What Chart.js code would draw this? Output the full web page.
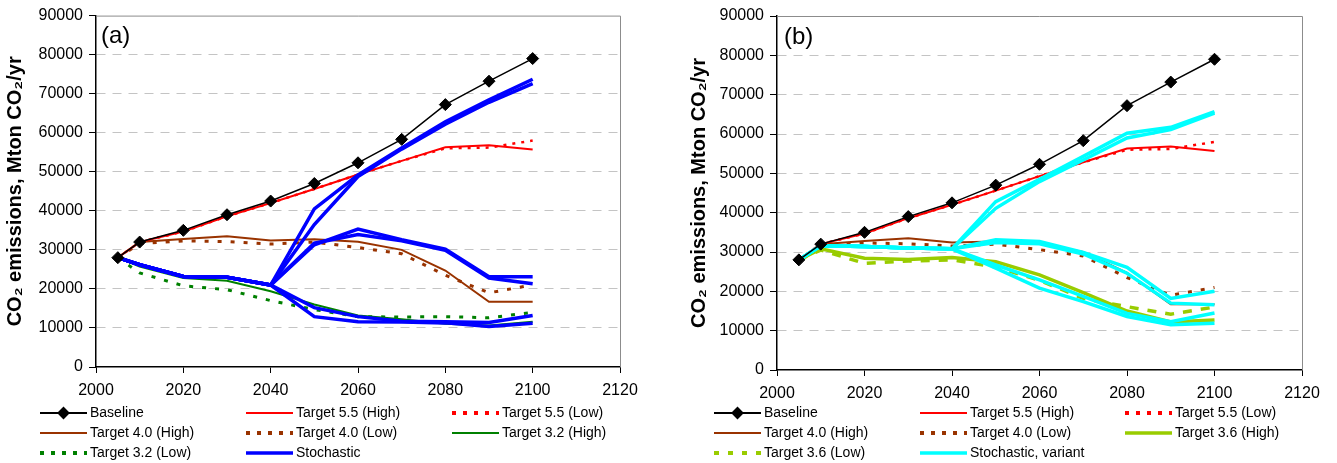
<!DOCTYPE html>
<html>
<head>
<meta charset="utf-8">
<script src="https://cdn.jsdelivr.net/npm/chart.js@4.4.1/dist/chart.umd.min.js"></script>
<style>
  body { margin: 0; background: #fff; width: 1337px; height: 463px; overflow: hidden; position: relative; }
  .box { position: absolute; top: 0; height: 463px; }
  #boxA { left: 0; width: 668px; }
  #boxB { left: 668px; width: 669px; }
</style>
</head>
<body>
<div class="box" id="boxA"><canvas id="chartA"></canvas></div>
<div class="box" id="boxB"><canvas id="chartB"></canvas></div>
<script>
// years on the x axis
const years = [2005, 2010, 2020, 2030, 2040, 2050, 2060, 2070, 2080, 2090, 2100];
const xTicks = [2000, 2020, 2040, 2060, 2080, 2100, 2120];
const yTicks = [0, 10000, 20000, 30000, 40000, 50000, 60000, 70000, 80000, 90000];

// series common to both panels
const baseline = [28000, 32000, 35000, 39000, 42500, 47000, 52300, 58300, 67200, 73200, 79000];
const t55High = [28000, 32000, 34700, 38600, 42000, 45600, 49300, 52800, 56300, 56800, 55700];
const t55Low = [28000, 32000, 34700, 38600, 42000, 45600, 49300, 52800, 56000, 56200, 58000];
const t40High = [28000, 32000, 32800, 33500, 32400, 32700, 32100, 30000, 24700, 16700, 16700];
const t40Low = [28000, 31600, 32300, 32100, 31500, 32000, 30600, 29000, 23500, 19000, 21000];

// panel (a)
const t32High = [28000, 25700, 22800, 22100, 19400, 16000, 13200, 12200, 11100, 10600, 11600];
const t32Low = [28000, 24100, 20800, 19800, 17000, 14700, 12900, 12800, 12900, 12600, 14000];
const stochastic = [
  [28000, 26200, 23200, 23000, 21000, 40500, 49200, 56100, 62800, 68400, 73700],
  [28000, 26200, 23200, 23000, 21000, 36500, 48800, 55800, 62200, 67800, 72600],
  [28000, 26200, 23200, 23000, 21000, 31300, 35300, 32600, 30200, 23100, 23100],
  [28000, 26200, 23200, 23000, 21000, 31700, 33900, 32300, 29900, 22800, 21300],
  [28000, 26200, 23200, 23000, 21000, 15200, 12900, 11700, 11600, 11400, 13200],
  [28000, 26200, 23200, 23000, 21000, 12900, 11600, 11500, 11300, 10400, 11200]
];

// panel (b)
const t36High = [28000, 30800, 28400, 28100, 28600, 27500, 24200, 19700, 15000, 12200, 12700];
const t36Low = [28000, 30500, 27100, 27700, 28000, 26200, 22800, 18200, 16100, 14200, 16000];
const stochVariant = [
  [28000, 31600, 31400, 31000, 30800, 42800, 48500, 54300, 60200, 61700, 65700],
  [28000, 31600, 31400, 31000, 30800, 41100, 47900, 53400, 59000, 61100, 65300],
  [28000, 31600, 31400, 31000, 30800, 33100, 32700, 29900, 26100, 18200, 20000],
  [28000, 31600, 31400, 31000, 30800, 32400, 32100, 29500, 24600, 17000, 16600],
  [28000, 31600, 31400, 31000, 30800, 26700, 22900, 18700, 14400, 12300, 14500],
  [28000, 31600, 31400, 31000, 30800, 25900, 20800, 17400, 13600, 11500, 11900]
];

Chart.defaults.font.family = "'Liberation Sans', Arial, sans-serif";
Chart.defaults.color = '#000';

function serie(label, values, color, width, dash, order) {
  return {
    label: label,
    data: values.map((v, i) => ({ x: years[i], y: v })),
    borderColor: color,
    backgroundColor: color,
    borderWidth: width,
    borderDash: dash || [],
    borderCapStyle: 'butt',
    pointRadius: 0,
    tension: 0,
    order: order
  };
}

// gray frame on top / right and the panel letter
const framePlugin = {
  id: 'frame',
  beforeDatasetsDraw(chart, args, opts) {
    const { ctx, chartArea: a } = chart;
    ctx.save();
    ctx.strokeStyle = '#8c8c8c';
    ctx.lineWidth = 1;
    ctx.beginPath();
    ctx.moveTo(a.left, a.top + 0.5);
    ctx.lineTo(a.right + 0.5, a.top + 0.5);
    ctx.lineTo(a.right + 0.5, a.bottom);
    ctx.stroke();
    ctx.fillStyle = '#000';
    ctx.font = "24px 'Liberation Sans', Arial, sans-serif";
    ctx.textBaseline = 'middle';
    ctx.fillText(opts.panel, a.left + opts.panelDx, a.top + 21);
    ctx.restore();
  }
};

// legend in 3 columns under the plot
const legendPlugin = {
  id: 'gridLegend',
  afterDraw(chart, args, opts) {
    const ctx = chart.ctx;
    const seen = [];
    chart.data.datasets.forEach(ds => {
      if (!seen.find(s => s.label === ds.label)) seen.push(ds);
    });
    ctx.save();
    ctx.font = "14px 'Liberation Sans', Arial, sans-serif";
    ctx.textBaseline = 'middle';
    seen.forEach((ds, i) => {
      const x0 = opts.cols[i % 3];
      const y = opts.rows[Math.floor(i / 3)];
      const w = opts.sample;
      ctx.strokeStyle = ds.borderColor;
      ctx.lineWidth = ds.legendWidth || ds.borderWidth;
      ctx.setLineDash(ds.legendDash || ds.borderDash || []);
      ctx.lineCap = 'butt';
      ctx.beginPath();
      ctx.moveTo(x0, y);
      ctx.lineTo(x0 + w, y);
      ctx.stroke();
      ctx.setLineDash([]);
      if (ds.pointStyle) {
        Chart.helpers.drawPoint(ctx, { pointStyle: ds.pointStyle, radius: 5, rotation: 0, borderWidth: 1 }, x0 + w / 2, y);
        ctx.fillStyle = ds.borderColor;
        ctx.fill();
      }
      ctx.fillStyle = '#000';
      ctx.fillText(ds.label, x0 + w + 3, y);
    });
    ctx.restore();
  }
};

function makeChart(id, datasets, p) {
  return new Chart(document.getElementById(id), {
    type: 'line',
    data: { datasets: datasets },
    options: {
      responsive: true,
      maintainAspectRatio: false,
      animation: false,
      events: [],
      layout: { padding: { left: 0, right: p.padRight, top: p.padTop, bottom: p.padBottom } },
      scales: {
        x: {
          type: 'linear',
          min: 2000,
          max: 2120,
          afterBuildTicks: s => { s.ticks = xTicks.map(v => ({ value: v })); },
          afterFit: s => { s.height = 32; },
          ticks: { font: { size: 16 }, padding: 8, maxRotation: 0, callback: v => String(v) },
          grid: { drawOnChartArea: false, drawTicks: true, tickLength: 6, tickColor: '#000' },
          border: { color: '#000', width: 1.5 }
        },
        y: {
          min: 0,
          max: 90000,
          afterBuildTicks: s => { s.ticks = yTicks.map(v => ({ value: v })); },
          afterFit: s => { s.width = p.yWidth; },
          ticks: { font: { size: 16 }, padding: 6, callback: v => String(v) },
          grid: {
            color: c => (c.tick && (c.tick.value === 0 || c.tick.value === 90000)) ? 'rgba(0,0,0,0)' : '#c4c4c4',
            tickLength: 7,
            tickColor: '#000',
            tickBorderDash: []
          },
          border: { color: '#000', width: 1.5, dash: [9, 7] },
          title: {
            display: true,
            text: 'CO₂ emissions, Mton CO₂/yr',
            font: { size: 20, weight: 'bold' },
            padding: { top: p.titlePad, bottom: 0 }
          }
        }
      },
      plugins: {
        legend: { display: false },
        tooltip: { enabled: false },
        frame: { panel: p.panel, panelDx: p.panelDx },
        gridLegend: { cols: p.legendCols, rows: [413, 433, 453], sample: 47 }
      }
    },
    plugins: [framePlugin, legendPlugin]
  });
}

function baseSet() {
  const b = serie('Baseline', baseline, '#000000', 1.5, [], 0);
  b.pointStyle = 'rectRot';
  b.pointRadius = 6;
  b.pointBorderWidth = 1;
  b.legendWidth = 2;
  return [
    b,
    serie('Target 5.5 (High)', t55High, '#ff0000', 2, [], 2),
    Object.assign(serie('Target 5.5 (Low)', t55Low, '#ff0000', 2.5, [3, 6], 3), { legendWidth: 4, legendDash: [4, 7] }),
    serie('Target 4.0 (High)', t40High, '#993300', 2, [], 2),
    Object.assign(serie('Target 4.0 (Low)', t40Low, '#993300', 3, [4, 9], 3), { legendWidth: 4, legendDash: [4, 7] })
  ];
}

const setsA = baseSet().concat([
  serie('Target 3.2 (High)', t32High, '#008000', 2, [], 2),
  Object.assign(serie('Target 3.2 (Low)', t32Low, '#008000', 3, [4, 9], 3), { legendWidth: 4, legendDash: [4, 7] })
], stochastic.map(s => serie('Stochastic', s, '#0000ff', 3.5, [], 1)));

const setsB = baseSet().concat([
  serie('Target 3.6 (High)', t36High, '#99cc00', 3.5, [], 2),
  Object.assign(serie('Target 3.6 (Low)', t36Low, '#99cc00', 3.5, [9, 9], 3), { legendWidth: 4, legendDash: [5, 9] })
], stochVariant.map(s => serie('Stochastic, variant', s, '#00ffff', 3.5, [], 1)));

makeChart('chartA', setsA, {
  yWidth: 96, padRight: 48, padTop: 14, padBottom: 64, titlePad: 3,
  panel: '(a)', panelDx: 5, legendCols: [40, 246, 452]
});
makeChart('chartB', setsB, {
  yWidth: 109, padRight: 35, padTop: 16, padBottom: 61, titlePad: 19,
  panel: '(b)', panelDx: 7, legendCols: [46, 252, 457]
});
</script>
</body>
</html>
